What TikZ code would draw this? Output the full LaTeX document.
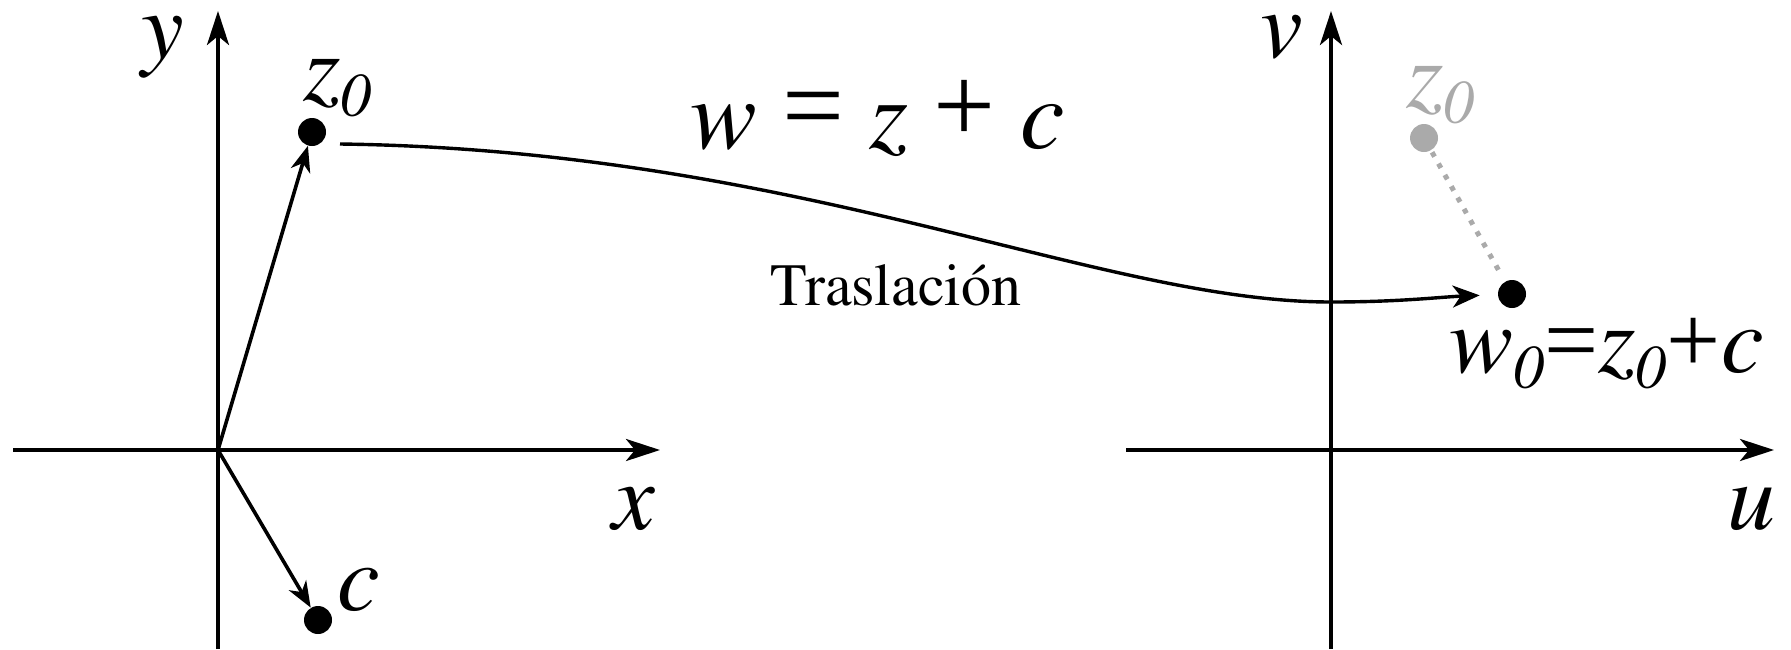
\documentclass[tikz,border=0pt]{standalone}
\usepackage[T1]{fontenc}
\usepackage{fontspec}
\newfontfamily\lsr{Liberation Serif}
\usetikzlibrary{arrows.meta}
\definecolor{ghost}{RGB}{170,170,170}
\newcommand\tms{\fontencoding{T1}\fontfamily{ptm}}
\newcommand\lblfont{\tms\fontsize{48}{52}\selectfont\itshape}
\newcommand\eqfont{\tms\fontsize{50}{54}\selectfont\itshape}
\newcommand\zsub{\raisebox{-8pt}{\tms\fontsize{31}{34}\selectfont\itshape 0}}
\newcommand\up[1]{{\lsr\upshape #1}}
\newcommand\bigup[1]{\raisebox{3pt}{\lsr\upshape\fontsize{55}{58}\selectfont #1}}
\tikzset{
  axis/.style={line width=2pt,-{Stealth[length=17pt,width=11pt,inset=4.5pt]}},
  vec/.style={line width=1.8pt,-{Stealth[length=13pt,width=10pt,inset=4pt]}},
  dotnode/.style={circle,fill=black,inner sep=0pt,minimum size=14pt},
  lbl/.style={font=\lblfont,inner sep=0pt},
  txt/.style={font=\tms\fontsize{30}{34}\selectfont\upshape,inner sep=0pt}
}
\begin{document}
\begin{tikzpicture}[x=0.5pt,y=-0.5pt]
\useasboundingbox (0,0) rectangle (1791,649);
% left axes
\coordinate (O) at (218,450);
\coordinate (xl) at (13,450);
\coordinate (xr) at (660,450);
\coordinate (yb) at (218,649);
\coordinate (yt) at (218,11);
\draw[axis] (xl) -- (xr);
\draw[axis] (yb) -- (yt);
% right axes
\coordinate (ul) at (1126,450);
\coordinate (ur) at (1774,450);
\coordinate (vb) at (1331,649);
\coordinate (vt) at (1331,11);
\draw[axis] (ul) -- (ur);
\draw[axis] (vb) -- (vt);
% points
\node[dotnode] (z0) at (312,132) {};
\node[dotnode] (c) at (318,620) {};
\node[dotnode,fill=ghost] (gz) at (1424,138) {};
\node[dotnode] (w0) at (1512,294) {};
% vectors
\draw[vec] (O) -- (z0);
\draw[vec] (O) -- (c);
% dotted
\draw[ghost,line width=2.5pt,dash pattern=on 2.5pt off 4pt,shorten <=1pt,shorten >=3pt] (gz) -- (w0);
% curve
\coordinate (cs) at (340,144);
\coordinate (cm) at (1331,302);
\draw[line width=1.7pt,-{Stealth[length=13.5pt,width=11pt,inset=4pt]},shorten >=9pt]
  (cs) .. controls (800,150) and (1100,302) .. (cm)
       .. controls (1400,302) and (1440,297) .. (w0);
% labels
\node[lbl] (ly) at (163,47) {y};
\node[lbl] (lx) at (634,509) {x};
\node[lbl] (lv) at (1282,37) {v};
\node[lbl] (lu) at (1751,509) {u};
\node[lbl,anchor=base west] (lz0) at (303,100) {z\zsub};
\node[lbl,anchor=base west] (lc) at (337,610) {c};
\node[lbl,anchor=base west,text=ghost] (lgz) at (1406,107) {z\zsub};
\node[lbl,anchor=base west] (lw0) at (1449,372) {w\zsub\up{=}z\zsub\up{+}c};
\node[lbl,font=\eqfont,anchor=base west] (eq) at (690,148) {w \bigup{=} z \bigup{+} c};
\node[txt,anchor=base west] (tr) at (770,305) {Traslaci\'on};
\end{tikzpicture}
\end{document}
